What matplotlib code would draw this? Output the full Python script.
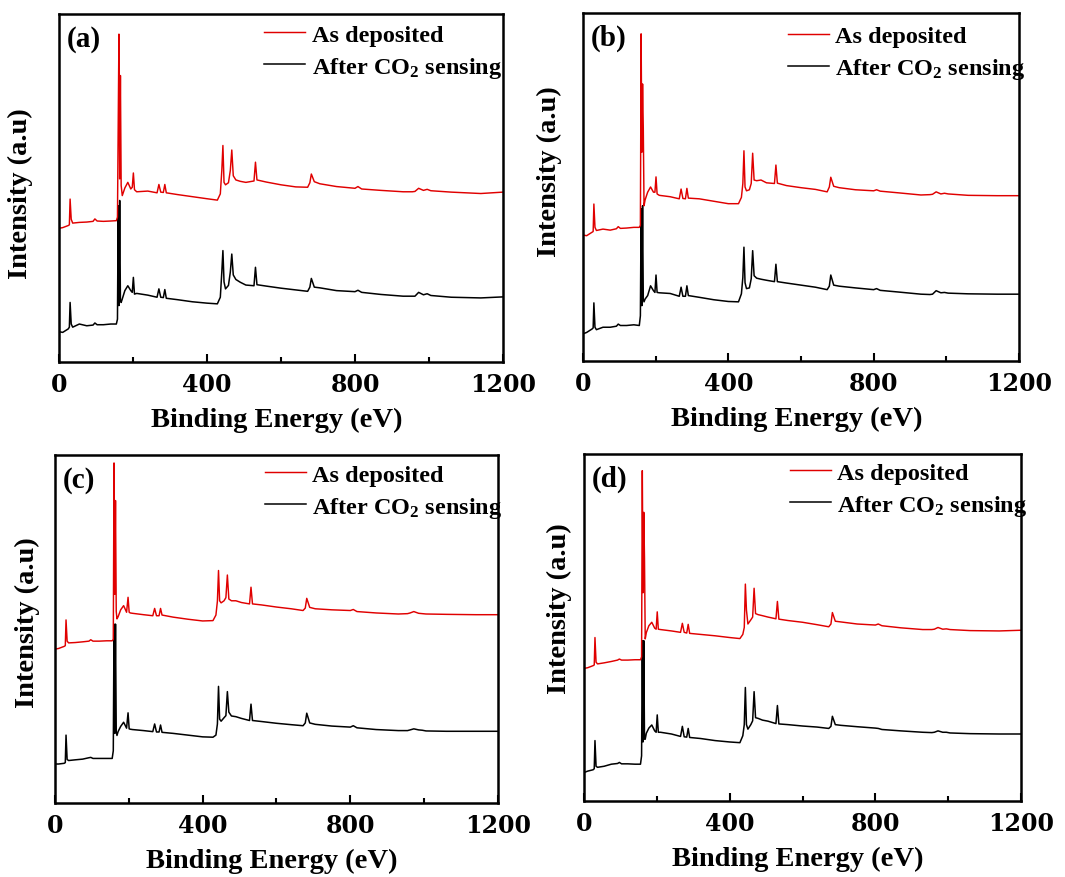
# -*- coding: utf-8 -*-
# Espectros XPS (survey) - 4 amostras, antes e depois do teste de CO2
import matplotlib
matplotlib.use("Agg")
import matplotlib.pyplot as plt
from matplotlib.ticker import FixedLocator

plt.rcParams['font.family'] = ['Liberation Serif', 'DejaVu Serif']
plt.rcParams['font.weight'] = 'bold'
plt.rcParams['mathtext.fontset'] = 'custom'
plt.rcParams['mathtext.rm'] = 'Liberation Serif:bold'
plt.rcParams['mathtext.bf'] = 'Liberation Serif:bold'
plt.rcParams['mathtext.it'] = 'Liberation Serif:bold'

# --- DADOS (intensidade em u.a.) ---
ENERGIA = [0, 10, 25, 28, 30, 33, 37, 55, 75, 92, 97, 103, 120, 140, 155, 158,
           160, 162, 164, 166, 168, 171, 178, 186, 194, 198, 201, 204, 210, 240,
           265, 270, 275, 282, 286, 290, 320, 360, 400, 428, 436, 440, 443, 446,
           450, 458, 463, 467, 471, 478, 490, 505, 527, 531, 535, 560, 600, 640,
           672, 678, 682, 690, 705, 750, 800, 808, 818, 870, 930, 955, 962, 972,
           985, 995, 1005, 1060, 1140, 1200]

A_DEPOSITADO = [38.4, 38.6, 39.2, 39.4, 46.8, 41.0, 39.9, 40.1, 40.2, 40.4, 41.1, 40.5, 40.4, 40.5, 40.6, 41.6,
                67.9, 94.2, 52.6, 82.3, 50.7, 47.8, 50.0, 51.6, 49.7, 50.2, 54.3, 49.5, 48.9, 49.1,
                48.6, 51.0, 48.8, 48.7, 51.0, 48.6, 48.1, 47.5, 46.9, 46.5, 48.3, 55.0, 62.2, 51.6,
                50.9, 51.5, 55.0, 60.9, 53.5, 52.3, 51.9, 51.6, 52.0, 57.4, 52.3, 51.7, 50.9, 50.3,
                50.2, 51.5, 54.0, 51.8, 51.2, 50.4, 49.9, 50.4, 49.7, 49.3, 48.9, 48.9, 49.0, 49.9,
                49.3, 49.6, 49.2, 48.8, 48.4, 48.8]
A_CO2 = [8.7, 8.5, 9.5, 10.0, 17.1, 10.9, 10.0, 10.9, 10.4, 10.6, 11.2, 10.7, 10.7, 10.9, 10.9, 12.3,
         44.9, 16.2, 46.4, 17.5, 17.1, 18.1, 20.5, 21.9, 20.5, 20.0, 24.3, 19.5, 19.7, 19.2,
         18.6, 21.0, 18.6, 18.5, 20.8, 18.3, 17.9, 17.3, 16.9, 16.7, 18.6, 25.8, 32.0, 23.0,
         21.0, 22.0, 25.8, 31.0, 25.0, 23.7, 22.9, 22.1, 21.9, 27.2, 22.2, 21.8, 21.2, 20.7,
         20.3, 21.5, 24.0, 21.5, 21.3, 20.5, 20.2, 20.6, 20.0, 19.4, 18.9, 18.9, 18.9, 20.0,
         19.3, 19.6, 19.1, 18.6, 18.4, 18.7]

B_DEPOSITADO = [36.2, 36.0, 37.0, 37.2, 45.1, 38.4, 37.5, 37.9, 37.6, 38.0, 38.6, 38.1, 38.2, 38.4, 38.4, 39.0,
                94.0, 60.0, 79.6, 66.7, 44.6, 46.3, 48.5, 50.0, 48.5, 48.5, 52.9, 48.0, 47.6, 47.2,
                46.6, 49.4, 46.7, 46.6, 49.6, 46.8, 46.6, 45.9, 45.2, 45.2, 47.0, 51.0, 60.4, 50.0,
                48.9, 49.2, 51.0, 59.7, 52.0, 51.8, 52.0, 51.2, 51.0, 56.3, 51.1, 50.4, 49.8, 49.3,
                48.6, 50.0, 52.8, 50.2, 49.8, 49.2, 48.9, 49.2, 48.8, 48.3, 47.7, 47.8, 47.9, 48.6,
                48.0, 48.2, 48.0, 47.6, 47.5, 47.5]
B_CO2 = [7.8, 8.2, 9.2, 9.5, 16.7, 9.7, 9.0, 9.7, 9.7, 10.0, 10.6, 10.2, 10.2, 10.4, 10.2, 13.0,
         43.7, 15.9, 44.6, 17.8, 17.0, 17.8, 18.8, 21.6, 20.2, 19.7, 24.7, 19.7, 19.6, 19.4,
         18.6, 21.2, 18.6, 18.6, 21.6, 18.8, 18.3, 17.6, 17.1, 17.0, 19.3, 24.0, 32.7, 22.5,
         20.8, 21.0, 23.6, 31.7, 24.5, 23.8, 23.5, 23.2, 22.8, 27.8, 22.8, 22.4, 21.8, 21.2,
         20.5, 21.5, 24.7, 21.8, 21.5, 21.0, 20.5, 20.8, 20.3, 19.8, 19.2, 19.1, 19.2, 20.2,
         19.6, 19.7, 19.5, 19.3, 19.2, 19.2]

C_DEPOSITADO = [44.2, 44.4, 45.0, 45.2, 52.6, 46.5, 46.0, 46.1, 46.3, 46.5, 46.9, 46.5, 46.5, 46.6, 46.6, 47.0,
                97.7, 60.0, 86.9, 55.0, 52.9, 53.5, 55.5, 56.7, 54.8, 59.1, 54.8, 54.6, 54.5, 54.1,
                53.8, 55.9, 53.8, 53.8, 55.9, 54.0, 53.4, 52.8, 52.3, 52.4, 54.0, 58.0, 66.8, 58.1,
                57.5, 58.1, 59.0, 65.5, 58.6, 58.1, 58.1, 57.6, 57.2, 62.0, 57.2, 56.9, 56.3, 55.8,
                55.3, 56.0, 58.8, 56.2, 55.8, 55.5, 55.3, 55.6, 55.0, 54.6, 54.3, 54.4, 54.6, 55.0,
                54.5, 54.4, 54.3, 54.2, 54.1, 54.1]
C_CO2 = [11.2, 11.2, 11.4, 11.6, 19.5, 12.5, 12.2, 12.4, 12.6, 13.0, 13.1, 12.8, 12.8, 12.8, 12.8, 15.0,
         51.4, 20.0, 51.4, 20.5, 19.4, 20.5, 22.0, 23.2, 21.5, 25.9, 21.3, 21.2, 21.1, 20.8,
         20.5, 22.7, 20.4, 20.4, 22.4, 20.3, 20.0, 19.5, 19.0, 18.9, 19.5, 22.7, 33.5, 24.1,
         23.5, 24.5, 25.1, 32.0, 26.1, 25.0, 24.8, 24.3, 23.7, 28.4, 23.7, 23.4, 22.9, 22.5,
         22.2, 23.0, 25.8, 23.0, 22.6, 22.1, 21.8, 22.2, 21.6, 21.1, 20.8, 20.8, 21.0, 21.3,
         21.0, 20.9, 20.7, 20.6, 20.6, 20.6]

D_DEPOSITADO = [38.2, 38.4, 39.0, 39.2, 47.1, 40.0, 39.5, 39.8, 40.2, 40.6, 40.9, 40.6, 40.6, 40.7, 40.7, 41.5,
                95.2, 60.0, 83.2, 70.0, 46.7, 48.5, 50.5, 51.5, 49.8, 49.5, 54.5, 49.5, 49.4, 49.0,
                48.6, 51.2, 48.6, 48.4, 50.9, 48.3, 48.0, 47.6, 47.1, 46.8, 48.0, 50.0, 62.5, 55.0,
                51.0, 52.2, 53.0, 61.3, 54.0, 53.7, 53.4, 53.0, 52.5, 57.5, 52.4, 52.0, 51.5, 50.8,
                50.2, 51.0, 54.3, 51.8, 51.6, 51.0, 50.7, 51.0, 50.5, 49.9, 49.4, 49.4, 49.5, 50.0,
                49.5, 49.6, 49.4, 49.1, 49.0, 49.2]
D_CO2 = [8.2, 8.6, 9.0, 9.3, 17.4, 10.0, 9.7, 10.0, 10.6, 10.8, 11.1, 10.7, 10.7, 10.6, 10.6, 13.0,
         46.2, 17.0, 46.2, 17.8, 17.8, 19.5, 21.0, 21.9, 20.2, 19.8, 24.8, 19.8, 19.8, 19.3,
         18.6, 21.5, 18.5, 18.4, 20.9, 18.3, 18.0, 17.4, 17.0, 16.8, 18.8, 22.0, 32.7, 22.0,
         20.7, 22.0, 23.1, 31.5, 24.0, 23.8, 23.3, 23.0, 22.3, 27.5, 22.2, 22.0, 21.6, 21.3,
         20.9, 21.5, 24.4, 22.0, 21.8, 21.4, 21.0, 20.9, 20.6, 20.2, 19.8, 19.7, 19.8, 20.2,
         19.8, 19.8, 19.6, 19.4, 19.3, 19.3]

ROTULOS = ['(a)', '(b)', '(c)', '(d)']
LEGENDAS = ['As deposited', r'After CO$_2$ sensing']
XTICKS = [0, 400, 800, 1200]
XTICKS_MENORES = [200, 600, 1000]
# --- FIM DOS DADOS ---

series = [(A_DEPOSITADO, A_CO2), (B_DEPOSITADO, B_CO2),
          (C_DEPOSITADO, C_CO2), (D_DEPOSITADO, D_CO2)]

# posicao de cada painel na figura [esq, baixo, largura, altura]
posicoes = [[0.0554, 0.5866, 0.4169, 0.3964],
            [0.5474, 0.5877, 0.4094, 0.3964],
            [0.0516, 0.0843, 0.4160, 0.3964],
            [0.5484, 0.0866, 0.4103, 0.3952]]
# (x da legenda, y da legenda, x do ylabel, y do ylabel)
ajustes = [(0.462, 0.972, -0.059, 0.487),
           (0.470, 0.965, -0.049, 0.547),
           (0.474, 0.975, -0.034, 0.520),
           (0.471, 0.978, -0.028, 0.556)]

fig = plt.figure(figsize=(10.65, 8.78), dpi=100)

for i in range(4):
    ax = fig.add_axes(posicoes[i])
    depositado, co2 = series[i]
    ax.plot(ENERGIA, co2, color='black', lw=1.1, label=LEGENDAS[1])
    ax.plot(ENERGIA, depositado, color='#e00000', lw=1.05, label=LEGENDAS[0])

    ax.set_xlim(0, 1200)
    ax.set_ylim(0, 100)
    ax.set_yticks([])
    ax.xaxis.set_major_locator(FixedLocator(XTICKS))
    ax.xaxis.set_minor_locator(FixedLocator(XTICKS_MENORES))
    ax.tick_params(axis='x', which='major', direction='in', length=6, width=1.5, pad=7)
    ax.tick_params(axis='x', which='minor', direction='in', length=3.5, width=1.5)
    for lab in ax.get_xticklabels():
        lab.set_fontfamily('DejaVu Serif')
        lab.set_fontsize(17)
        lab.set_fontweight('bold')
    for s in ax.spines.values():
        s.set_linewidth(1.8)

    ax.set_xlabel('Binding Energy (eV)', fontsize=20.5, fontweight='bold')
    ax.set_ylabel('Intensity (a.u)', fontsize=20.5, fontweight='bold')
    lx, ly, yx, yy = ajustes[i]
    ax.xaxis.set_label_coords(0.49, -0.128)
    ax.yaxis.set_label_coords(yx, yy)

    ax.text(0.018, 0.968, ROTULOS[i], transform=ax.transAxes, fontsize=21,
            fontweight='bold', va='top', ha='left')

    h, l = ax.get_legend_handles_labels()
    leg = ax.legend(h[::-1], l[::-1], loc='upper left', bbox_to_anchor=(lx, ly),
                    frameon=False, fontsize=17.5, handlelength=1.7, handletextpad=0.25,
                    labelspacing=0.38, borderpad=0, borderaxespad=0)

fig.savefig('out.png', dpi=100)
plt.close()
